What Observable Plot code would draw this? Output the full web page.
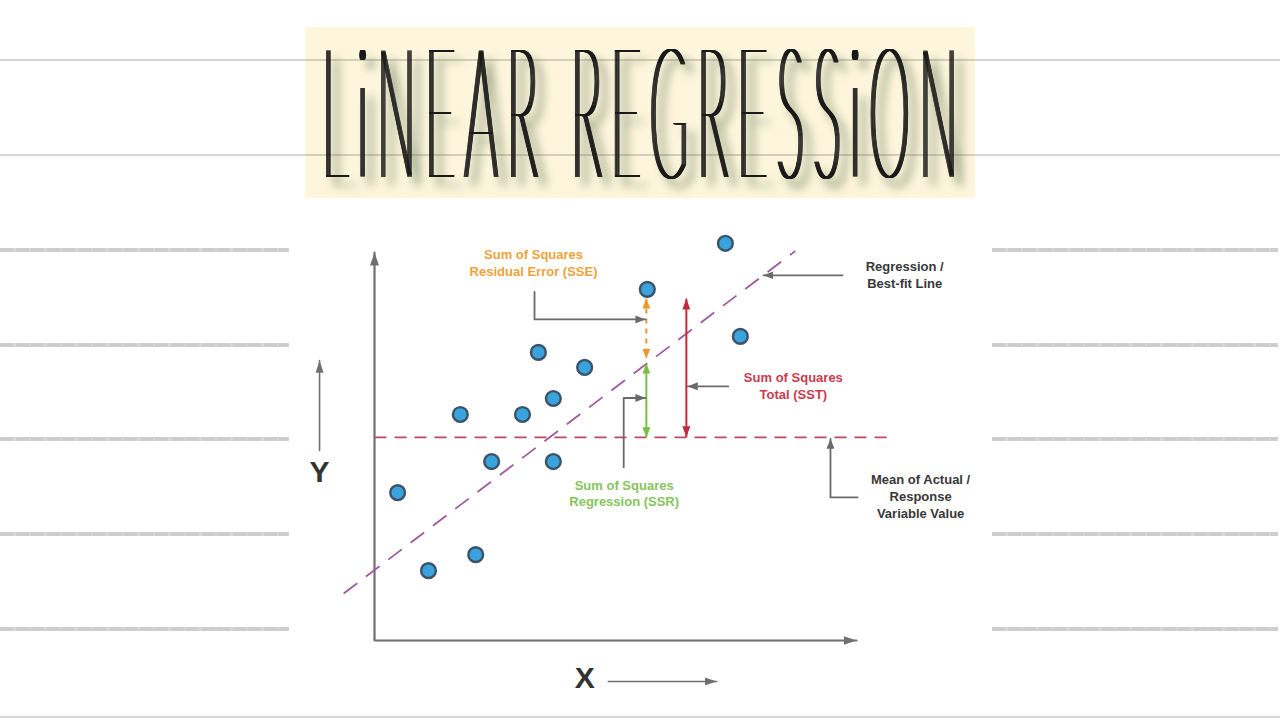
<!DOCTYPE html>
<html>
<head>
<meta charset="utf-8">
<script src="https://cdn.jsdelivr.net/npm/d3@7"></script>
<script src="https://cdn.jsdelivr.net/npm/@observablehq/plot@0.6"></script>
<style>
html, body { margin: 0; padding: 0; background: #fff; }
#page { position: relative; width: 1280px; height: 720px; overflow: hidden; background: #fff; }
.rule { position: absolute; left: 0; width: 1280px; height: 2px; background: rgba(0,0,0,0.16); }
.thick { position: absolute; height: 4px; background: #cdcdcd;
  background-image: repeating-linear-gradient(90deg, rgba(255,255,255,0) 0 13px, rgba(255,255,255,0.22) 13px 16px, rgba(255,255,255,0) 16px 29px, rgba(255,255,255,0.15) 29px 31px); }
#titlebox { position: absolute; left: 305px; top: 27px; width: 670px; height: 171px; background: #fdf6dc; }
#titlewrap { position: absolute; left: 322px; top: 46px; filter: drop-shadow(8px 9px 5px rgba(80,100,68,0.62)); }
#title { font-family: Lato, Inter, 'DejaVu Sans', sans-serif; font-weight: 100; font-size: 52px; line-height: 37px;
  white-space: nowrap; color: #1a1a1a; transform-origin: 0 0; transform: scaleY(3.46);
  text-shadow: 0.4px 0 0 #1a1a1a, 0.8px 0 0 #1a1a1a, 1.2px 0 0 #1a1a1a, 1.6px 0 0 #1a1a1a, 2px 0 0 #1a1a1a,
               -0.4px 0 0 #1a1a1a, -0.8px 0 0 #1a1a1a, -1.2px 0 0 #1a1a1a, -1.6px 0 0 #1a1a1a, -2px 0 0 #1a1a1a; }
#chart { position: absolute; left: 290px; top: 220px; }
</style>
</head>
<body>
<div id="page">
  <div id="titlebox"></div>
  <div class="rule" style="top:59px"></div>
  <div class="rule" style="top:154px"></div>
  <div class="rule" style="top:716px"></div>
  <div id="thickrules"></div>
  <div id="titlewrap"><div id="title">LiNEAR REGRESSiON</div></div>
  <div id="chart"></div>
</div>
<script>
// ---- data ----
const pointX = [0.48, 1.12, 2.10, 1.78, 2.43, 3.07, 3.40, 3.71, 3.71, 4.36, 5.66, 7.28, 7.59];
const pointY = [3.05, 1.44, 1.77, 4.66, 3.69, 4.66, 5.94, 4.99, 3.69, 5.63, 7.24, 8.19, 6.27];
const fitX = [-0.64, 8.73];
const fitY = [0.97, 8.03];
const meanY = 4.19;
const meanX = [0, 10.66];
const axisX = [0, 0, 10];
const axisY = [8, 0, 0];
const sseX = 5.64, sseY = [7.05, 5.81];
const ssrX = 5.64, ssrY = [5.71, 4.19];
const sstX = 6.47, sstY = [7.05, 4.19];
const labelNames = ["sse", "fit", "sst", "ssr", "mean"];
const labelText = ["Sum of Squares\nResidual Error (SSE)", "Regression /\nBest-fit Line", "Sum of Squares\nTotal (SST)", "Sum of Squares\nRegression (SSR)", "Mean of Actual /\nResponse\nVariable Value"];
const labelX = [3.30, 11.0, 8.69, 5.18, 11.33];
const labelY = [7.80, 7.55, 5.27, 3.05, 2.99];
const pointerX = [[3.32, 3.32, 5.62], [9.71, 8.07], [7.34, 6.50], [5.17, 5.17, 5.62], [10.02, 9.46, 9.46]];
const pointerY = [[7.19, 6.62, 6.62], [7.53, 7.53], [5.24, 5.24], [3.57, 5.00, 5.00], [2.95, 2.95, 4.16]];
const axisLabels = ["Y", "X"];
const axisLabelX = [-1.14, 4.36];
const axisLabelY = [3.46, -0.78];
const axisArrowX = [[-1.14, -1.14], [4.85, 7.10]];
const axisArrowY = [[3.92, 5.77], [-0.845, -0.845]];

// ---- tables for the marks ----
const points = pointX.map((x, i) => ({x, y: pointY[i]}));
const labels = labelNames.map((n, i) => ({name: n, text: labelText[i], x: labelX[i], y: labelY[i]}));
const pointers = pointerX.flatMap((xs, k) => xs.map((x, j) => ({id: k, x, y: pointerY[k][j]})));
const axisPath = axisX.map((x, i) => ({x, y: axisY[i]}));
const axisArrows = axisArrowX.flatMap((xs, k) => xs.map((x, j) => ({id: k, x, y: axisArrowY[k][j]})));
const labelColor = {sse: "#efa23c", fit: "#383838", sst: "#c93a4e", ssr: "#86c45c", mean: "#383838"};

// filled triangular arrowhead marker
function tri(len, wid) {
  return (color, context) => {
    const doc = (context && context.document) || document;
    const ns = "http://www.w3.org/2000/svg";
    const m = doc.createElementNS(ns, "marker");
    m.setAttribute("viewBox", `${-len} ${-wid / 2} ${len} ${wid}`);
    m.setAttribute("markerWidth", len);
    m.setAttribute("markerHeight", wid);
    m.setAttribute("markerUnits", "userSpaceOnUse");
    m.setAttribute("orient", "auto-start-reverse");
    m.setAttribute("refX", 0);
    m.setAttribute("refY", 0);
    const p = doc.createElementNS(ns, "path");
    p.setAttribute("d", `M0,0L${-len},${-wid / 2}L${-len},${wid / 2}Z`);
    p.setAttribute("fill", color);
    p.setAttribute("stroke", "none");
    m.appendChild(p);
    return m;
  };
}

const font = "'Liberation Sans', Arial, Helvetica, sans-serif";
const gray = "#6a6a6a";

const chart = Plot.plot({
  width: 700,
  height: 490,
  marginLeft: 84,
  marginRight: 134,
  marginTop: 32,
  marginBottom: 70,
  x: {domain: [0, 10], axis: null},
  y: {domain: [0, 8], axis: null},
  style: {background: "#fff", overflow: "visible"},
  marks: [
    // axes
    Plot.line(axisPath, {x: "x", y: "y", stroke: "#707070", strokeWidth: 2.2, strokeLinejoin: "miter",
      markerStart: tri(13, 9), markerEnd: tri(13, 9)}),
    // axis-name arrows
    Plot.line(axisArrows, {x: "x", y: "y", z: "id", stroke: "#707070", strokeWidth: 1.6, markerEnd: tri(12, 8)}),
    // mean line
    Plot.link([meanY], {x1: meanX[0], x2: meanX[1], y1: d => d, y2: d => d, stroke: "#bd4a5c",
      strokeWidth: 1.7, strokeDasharray: "12,8"}),
    // regression line
    Plot.link([0], {x1: fitX[0], x2: fitX[1], y1: fitY[0], y2: fitY[1], stroke: "#9c5b9d",
      strokeWidth: 1.8, strokeDasharray: "17,11"}),
    // SSE (dashed orange)
    Plot.link([0], {x1: sseX, x2: sseX, y1: sseY[0], y2: sseY[1], stroke: "#f0952c", strokeWidth: 2,
      strokeDasharray: "5,5", markerStart: tri(10, 8), markerEnd: tri(10, 8)}),
    // SSR (green)
    Plot.link([0], {x1: ssrX, x2: ssrX, y1: ssrY[0], y2: ssrY[1], stroke: "#79bd45", strokeWidth: 2,
      markerStart: tri(10, 8), markerEnd: tri(10, 8)}),
    // SST (red)
    Plot.link([0], {x1: sstX, x2: sstX, y1: sstY[0], y2: sstY[1], stroke: "#c42a3e", strokeWidth: 2,
      markerStart: tri(11, 8), markerEnd: tri(11, 8)}),
    // pointers
    Plot.line(pointers, {x: "x", y: "y", z: "id", stroke: gray, strokeWidth: 1.8, strokeLinejoin: "round",
      curve: "linear", markerEnd: tri(10, 8)}),
    // data points
    Plot.dot(points, {x: "x", y: "y", r: 7.4, fill: "#3aa3de", stroke: "#3c5365", strokeWidth: 2.4}),
    // labels
    Plot.text(labels, {x: "x", y: "y", text: "text", fill: d => labelColor[d.name], fontWeight: "bold",
      fontSize: 13, lineHeight: 1.3, fontFamily: font}),
    Plot.text(axisLabels, {x: (d, i) => axisLabelX[i], y: (d, i) => axisLabelY[i], text: d => d,
      fill: "#333", fontWeight: "bold", fontSize: 30, fontFamily: font})
  ]
});
document.getElementById("chart").appendChild(chart);

// decorative ruled lines on both sides of the chart
const ruleTops = [248, 343, 437, 532, 627];
const holder = document.getElementById("thickrules");
for (const t of ruleTops) {
  for (const [l, w] of [[0, 289], [992, 286]]) {
    const d = document.createElement("div");
    d.className = "thick";
    d.style.top = t + "px";
    d.style.left = l + "px";
    d.style.width = w + "px";
    holder.appendChild(d);
  }
}

// spread the title letters across the banner
function fitTitle() {
  const el = document.getElementById("title");
  el.style.letterSpacing = "0px";
  el.style.display = "inline-block";
  const w = el.getBoundingClientRect().width;
  const n = el.textContent.length;
  el.style.letterSpacing = ((636 - w) / (n - 1)) + "px";
}
fitTitle();
if (document.fonts && document.fonts.ready) document.fonts.ready.then(fitTitle);
</script>
</body>
</html>
